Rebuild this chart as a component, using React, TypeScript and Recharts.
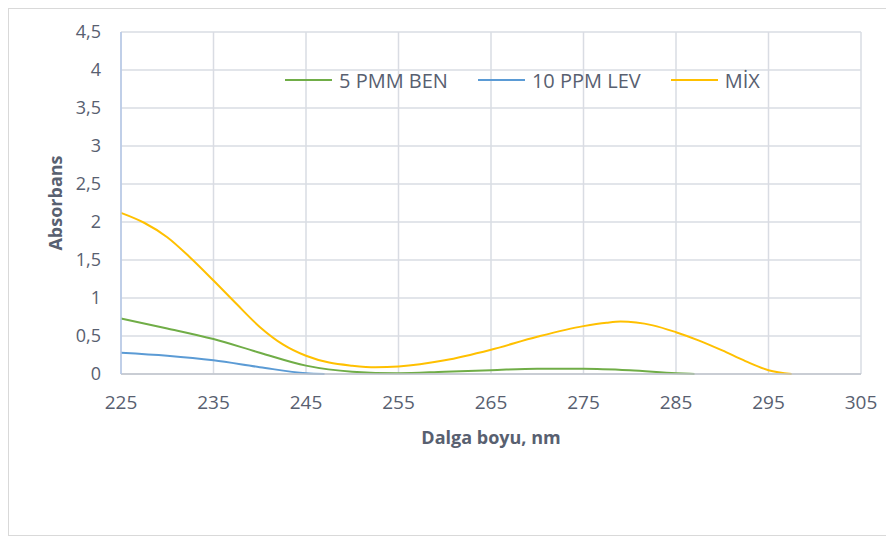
import React from "react";
import { LineChart, Line, XAxis, YAxis, CartesianGrid, Label } from "recharts";

const benX = [225, 230, 235, 240, 245, 250, 255, 260, 265, 270, 275, 280, 285, 287];
const benY = [0.73, 0.6, 0.46, 0.28, 0.11, 0.03, 0.01, 0.03, 0.05, 0.07, 0.07, 0.05, 0.01, 0];
const levX = [225, 230, 235, 240, 245, 247];
const levY = [0.28, 0.24, 0.18, 0.09, 0.01, 0];
const mixX = [225, 227.5, 230, 232.5, 235, 237.5, 240, 242.5, 245, 247.5, 250, 252.5, 255, 260, 265, 270, 275, 277.5, 279, 282.5, 285, 287.5, 290, 292.5, 295, 297.5];
const mixY = [2.12, 1.99, 1.8, 1.53, 1.23, 0.92, 0.62, 0.39, 0.24, 0.15, 0.11, 0.09, 0.1, 0.18, 0.32, 0.49, 0.63, 0.675, 0.69, 0.64, 0.55, 0.44, 0.31, 0.17, 0.05, 0];
const xTicks = [225, 235, 245, 255, 265, 275, 285, 295, 305];
const yTicks = [0, 0.5, 1, 1.5, 2, 2.5, 3, 3.5, 4, 4.5];

const series = [
  { name: "5 PMM BEN", color: "#70AD47", data: benX.map((x, i) => ({ x, y: benY[i] })) },
  { name: "10 PPM LEV", color: "#5B9BD5", data: levX.map((x, i) => ({ x, y: levY[i] })) },
  { name: "MİX", color: "#FFC000", data: mixX.map((x, i) => ({ x, y: mixY[i] })) },
];

const FONT = "'Open Sans', sans-serif";
const TXT = "#586070";

export default function App() {
  return (
    <div style={{ position: "relative", width: 878, height: 526, border: "1px solid #d9d9d9", background: "#fff" }}>
      <LineChart width={878} height={526} margin={{ top: 23, right: 26, left: 0, bottom: 0 }}>
        <CartesianGrid stroke="#d9dce3" strokeWidth={1.5} />
        <XAxis
          type="number"
          dataKey="x"
          domain={[225, 305]}
          ticks={xTicks}
          allowDuplicatedCategory={false}
          height={161}
          tickSize={0}
          tickMargin={22}
          axisLine={{ stroke: "#c0c4cc", strokeWidth: 1.5 }}
          tick={{ fill: TXT, fontSize: 19, fontFamily: FONT }}
        >
          <Label value="Dalga boyu, nm" position="insideTop" offset={57} style={{ fill: TXT, fontSize: 18, fontWeight: 700, fontFamily: FONT }} />
        </XAxis>
        <YAxis
          type="number"
          dataKey="y"
          domain={[0, 4.5]}
          ticks={yTicks}
          width={112}
          tickSize={0}
          tickMargin={20}
          axisLine={{ stroke: "#b4c7e7", strokeWidth: 1.5 }}
          tickFormatter={(v: number) => String(v).replace(".", ",")}
          tick={{ fill: TXT, fontSize: 18, fontFamily: FONT }}
        >
          <Label value="Absorbans" angle={-90} position="insideLeft" offset={47} style={{ fill: TXT, fontSize: 18, fontWeight: 700, fontFamily: FONT, textAnchor: "middle" }} />
        </YAxis>
        {series.map((s) => (
          <Line
            key={s.name}
            data={s.data}
            dataKey="y"
            name={s.name}
            type="monotone"
            stroke={s.color}
            strokeWidth={2}
            dot={false}
            isAnimationActive={false}
          />
        ))}
      </LineChart>
      <div
        style={{
          position: "absolute",
          top: 58,
          left: 276,
          height: 26,
          display: "flex",
          alignItems: "center",
          fontFamily: FONT,
          fontSize: 20,
          color: TXT,
          whiteSpace: "nowrap",
        }}
      >
        {series.map((s, i) => (
          <div key={s.name} style={{ display: "flex", alignItems: "center", marginRight: i < 2 ? 30 : 0 }}>
            <div style={{ width: 47, height: 2, background: s.color, marginRight: 7 }} />
            <span>{s.name}</span>
          </div>
        ))}
      </div>
    </div>
  );
}
